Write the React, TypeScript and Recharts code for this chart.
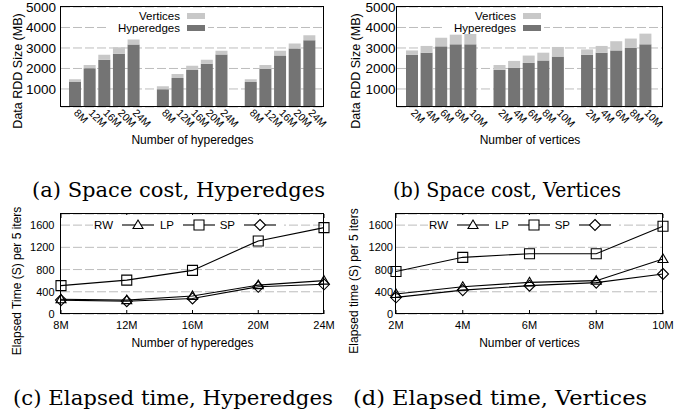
import React from 'react'
import { Bar, BarChart, CartesianGrid, Line, LineChart, XAxis, YAxis } from 'recharts'

// ---------------- data ----------------
const hyperedgeCounts = ['8M', '12M', '16M', '20M', '24M']
const vertexCounts = ['2M', '4M', '6M', '8M', '10M']

// (a) space cost while growing hyperedges, three datasets side by side (MB)
const spaceHyperHyperedges = [
  [1340, 2010, 2430, 2720, 3170],
  [990, 1540, 1930, 2230, 2680],
  [1340, 1980, 2630, 2980, 3380],
]
const spaceHyperVertices = [
  [140, 160, 240, 310, 250],
  [140, 190, 200, 200, 190],
  [140, 190, 240, 240, 240],
]

// (b) space cost while growing vertices (MB)
const spaceVertHyperedges = [
  [2670, 2770, 3080, 3180, 3180],
  [1940, 2040, 2270, 2390, 2580],
  [2670, 2770, 2880, 3000, 3180],
]
const spaceVertVertices = [
  [210, 330, 420, 470, 520],
  [230, 330, 360, 380, 470],
  [260, 330, 450, 460, 520],
]

// (c) elapsed time per 5 iterations, hyperedges sweep (s)
const timeHyperRW = [265, 250, 325, 520, 600]
const timeHyperLP = [510, 610, 785, 1315, 1555]
const timeHyperSP = [250, 230, 280, 490, 535]

// (d) elapsed time per 5 iterations, vertices sweep (s)
const timeVertRW = [360, 490, 570, 600, 990]
const timeVertLP = [765, 1020, 1085, 1085, 1580]
const timeVertSP = [300, 430, 510, 565, 720]

const spaceTicks = [1000, 2000, 3000, 4000, 5000]
const timeTicks = [0, 400, 800, 1200, 1600]

// ---------------- look ----------------
const W = 682
const H = 418
const SANS = '"Liberation Sans", Arial, Helvetica, sans-serif'
const SERIF = '"DejaVu Serif", serif'
const DARK = '#747474'
const LIGHT = '#c8c8c8'
const GRID = '#bdbdbd'
const SPACE_MIN = 120

type Box = { left: number; right: number; top: number; bottom: number }

const BOX_A: Box = { left: 61, right: 324, top: 7, bottom: 107 }
const BOX_B: Box = { left: 397, right: 663, top: 7, bottom: 107 }
const BOX_C: Box = { left: 61, right: 324, top: 214, bottom: 314 }
const BOX_D: Box = { left: 396, right: 663, top: 214, bottom: 314 }

const spaceSeries = [
  { key: 'vertices', name: 'Vertices', color: LIGHT },
  { key: 'hyperedges', name: 'Hyperedges', color: DARK },
]

const timeSeries = [
  { key: 'rw', name: 'RW', shape: 'triangle' },
  { key: 'lp', name: 'LP', shape: 'square' },
  { key: 'sp', name: 'SP', shape: 'diamond' },
]

type SpaceRow = { key: string; label: string; hyperedges: number | null; vertices: number | null }

// three groups of five bars, with one empty slot between groups
function spaceRows(labels: string[], hyper: number[][], vert: number[][]): SpaceRow[] {
  const rows: SpaceRow[] = []
  hyper.forEach((group, g) => {
    if (g > 0) rows.push({ key: `gap${g}`, label: '', hyperedges: null, vertices: null })
    group.forEach((h, i) => rows.push({ key: `${g}-${i}`, label: labels[i], hyperedges: h, vertices: vert[g][i] }))
  })
  return rows
}

function timeRows(labels: string[], rw: number[], lp: number[], sp: number[]) {
  return labels.map((label, i) => ({ label, rw: rw[i], lp: lp[i], sp: sp[i] }))
}

// axes take 1px each (a zero-sized axis is not drawn), so margins stop 1px short of the plot box
function margins(box: Box) {
  return { top: box.top, left: box.left - 1, right: W - box.right, bottom: H - box.bottom - 1 }
}

// ---------------- ticks & markers ----------------
function YTick({ x = 0, y = 0, payload, gap, size }: any) {
  return (
    <text x={x - gap} y={y} dy="0.36em" textAnchor="end" fontFamily={SANS} fontSize={size} fill="#000">
      {payload?.value}
    </text>
  )
}

function GroupTick({ x = 0, y = 0, payload, rows }: any) {
  const row = rows.find((r: SpaceRow) => r.key === payload?.value)
  if (!row || !row.label) return <g />
  return (
    <text transform={`translate(${x - 2},${y + 6.5}) rotate(45)`} fontFamily={SANS} fontSize={10.5} fill="#000">
      {row.label}
    </text>
  )
}

function TimeXTick({ x = 0, y = 0, payload, top }: any) {
  return (
    <g>
      <line x1={x} x2={x} y1={y} y2={y - 4} stroke="#000" />
      <line x1={x} x2={x} y1={top} y2={top + 4} stroke="#000" />
      <text x={x} y={y + 14.5} textAnchor="middle" fontFamily={SANS} fontSize={11} fill="#000">
        {payload?.value}
      </text>
    </g>
  )
}

function markerPath(shape: string, cx: number, cy: number) {
  if (shape === 'triangle') return `M${cx},${cy - 5}L${cx + 5},${cy + 3.5}L${cx - 5},${cy + 3.5}Z`
  if (shape === 'square') return `M${cx - 5},${cy - 5}h10v10h-10Z`
  return `M${cx},${cy - 5.5}L${cx + 5.5},${cy}L${cx},${cy + 5.5}L${cx - 5.5},${cy}Z`
}

function Marker({ cx, cy, shape }: any) {
  if (cx == null || cy == null) return <g />
  return <path d={markerPath(shape, cx, cy)} fill="none" stroke="#000" strokeWidth={1.1} />
}

// ---------------- frames & legends ----------------
function Frame({ box }: { box: Box }) {
  return (
    <div
      style={{
        position: 'absolute',
        left: box.left - 0.7,
        top: box.top - 0.7,
        width: box.right - box.left - 1.4,
        height: box.bottom - box.top - 1.4,
        border: '1.4px solid #000',
        pointerEvents: 'none',
      }}
    />
  )
}

function SpaceLegend({ box }: { box: Box }) {
  return (
    <div
      style={{
        position: 'absolute', left: box.left + 46, top: box.top + 1, width: 101, height: 26,
        background: '#fff', fontFamily: SANS, fontSize: 11.5,
      }}
    >
      {spaceSeries.map((s, i) => (
        <div
          key={s.key}
          style={{ position: 'absolute', right: 3, top: 2 + i * 12, height: 12, display: 'flex', alignItems: 'center' }}
        >
          <span style={{ lineHeight: '11px', whiteSpace: 'nowrap' }}>{s.name}</span>
          <span style={{ width: 18, height: 6, background: s.color, marginLeft: 7 }} />
        </div>
      ))}
    </div>
  )
}

function TimeLegend({ box }: { box: Box }) {
  return (
    <div
      style={{
        position: 'absolute', left: box.left + 32, top: box.top + 1, width: 191, height: 20,
        background: '#fff', fontFamily: SANS, fontSize: 11.5, display: 'flex', alignItems: 'center',
      }}
    >
      {timeSeries.map((s) => (
        <div key={s.key} style={{ width: 61, display: 'flex', alignItems: 'center' }}>
          <span style={{ width: 20, textAlign: 'right', whiteSpace: 'nowrap', lineHeight: '20px' }}>{s.name}</span>
          <svg width={32} height={20} style={{ marginLeft: 9, display: 'block' }}>
            <line x1={0} x2={32} y1={10} y2={10} stroke="#000" strokeWidth={1.1} />
            <path d={markerPath(s.shape, 16, 10)} fill="#fff" stroke="#000" strokeWidth={1.1} />
          </svg>
        </div>
      ))}
    </div>
  )
}

// ---------------- panels ----------------
function SpacePanel({ box, rows, padding, tickGap }: { box: Box; rows: SpaceRow[]; padding: { left: number; right: number }; tickGap: number }) {
  return (
    <>
      <div style={{ position: 'absolute', left: 0, top: 0 }}>
        <BarChart width={W} height={H} data={rows} margin={margins(box)} barSize={12}>
          <CartesianGrid vertical={false} stroke={GRID} strokeDasharray="9 3" />
          <XAxis
            dataKey="key"
            interval={0}
            height={1}
            tickSize={0}
            tickMargin={0}
            padding={padding}
            axisLine={false}
            tickLine={false}
            tick={(p: any) => <GroupTick {...p} rows={rows} />}
          />
          <YAxis
            width={1}
            domain={[SPACE_MIN, 5000]}
            ticks={spaceTicks}
            interval={0}
            allowDataOverflow
            axisLine={false}
            tickLine={false}
            tickSize={0}
            tickMargin={0}
            tick={(p: any) => <YTick {...p} gap={tickGap - 1} size={13.5} />}
          />
          <Bar dataKey="hyperedges" stackId="s" fill={DARK} isAnimationActive={false} />
          <Bar dataKey="vertices" stackId="s" fill={LIGHT} isAnimationActive={false} />
        </BarChart>
      </div>
      <Frame box={box} />
      <SpaceLegend box={box} />
    </>
  )
}

function TimePanel({ box, rows, tickGap }: { box: Box; rows: any[]; tickGap: number }) {
  return (
    <>
      <div style={{ position: 'absolute', left: 0, top: 0 }}>
        <LineChart width={W} height={H} data={rows} margin={margins(box)}>
          <CartesianGrid vertical={false} stroke={GRID} strokeDasharray="9 3" />
          <XAxis
            dataKey="label"
            interval={0}
            height={1}
            tickSize={0}
            tickMargin={0}
            axisLine={false}
            tickLine={false}
            tick={(p: any) => <TimeXTick {...p} top={box.top} />}
          />
          <YAxis
            width={1}
            domain={[0, 1800]}
            ticks={timeTicks}
            interval={0}
            axisLine={false}
            tickLine={false}
            tickSize={0}
            tickMargin={0}
            tick={(p: any) => <YTick {...p} gap={tickGap - 1} size={11} />}
          />
          {timeSeries.map((s) => (
            <Line
              key={s.key}
              dataKey={s.key}
              name={s.name}
              stroke="#000"
              strokeWidth={1.1}
              dot={(p: any) => <Marker key={`${s.key}-${p.index}`} {...p} shape={s.shape} />}
              activeDot={false}
              isAnimationActive={false}
            />
          ))}
        </LineChart>
      </div>
      <Frame box={box} />
      <TimeLegend box={box} />
    </>
  )
}

const axisTitles = [
  { text: 'Data RDD Size (MB)', x: 18, y: 71, vertical: true, size: 12.5 },
  { text: 'Data RDD Size (MB)', x: 356, y: 71, vertical: true, size: 12.5 },
  { text: 'Elapsed Time (S) per 5 iters', x: 17, y: 281, vertical: true, size: 12 },
  { text: 'Elapsed time (S) per 5 iters', x: 354, y: 281, vertical: true, size: 12 },
  { text: 'Number of hyperedges', x: 192.5, y: 144, vertical: false, size: 12 },
  { text: 'Number of vertices', x: 530, y: 144, vertical: false, size: 12 },
  { text: 'Number of hyperedges', x: 192.5, y: 346.5, vertical: false, size: 12 },
  { text: 'Number of vertices', x: 529.5, y: 346.5, vertical: false, size: 12 },
]

const captions = [
  { text: '(a) Space cost, Hyperedges', x: 32, y: 197, width: 293 },
  { text: '(b) Space cost, Vertices', x: 393, y: 197, width: 228 },
  { text: '(c) Elapsed time, Hyperedges', x: 13, y: 405, width: 320 },
  { text: '(d) Elapsed time, Vertices', x: 353, y: 405, width: 294 },
]

export default function App() {
  const rowsA = spaceRows(hyperedgeCounts, spaceHyperHyperedges, spaceHyperVertices)
  const rowsB = spaceRows(vertexCounts, spaceVertHyperedges, spaceVertVertices)
  const rowsC = timeRows(hyperedgeCounts, timeHyperRW, timeHyperLP, timeHyperSP)
  const rowsD = timeRows(vertexCounts, timeVertRW, timeVertLP, timeVertSP)

  return (
    <div style={{ position: 'absolute', left: 0, top: 0, width: W, height: H, background: '#fff', overflow: 'hidden' }}>
      <SpacePanel box={BOX_A} rows={rowsA} padding={{ left: 7, right: 7 }} tickGap={6} />
      <SpacePanel box={BOX_B} rows={rowsB} padding={{ left: 8, right: 10 }} tickGap={2.5} />
      <TimePanel box={BOX_C} rows={rowsC} tickGap={7.5} />
      <TimePanel box={BOX_D} rows={rowsD} tickGap={4} />
      <svg width={W} height={H} style={{ position: 'absolute', left: 0, top: 0, pointerEvents: 'none' }}>
        {axisTitles.map((t, i) =>
          t.vertical ? (
            <text
              key={i}
              x={t.x}
              y={t.y}
              dy="0.35em"
              transform={`rotate(-90, ${t.x}, ${t.y})`}
              textAnchor="middle"
              fontFamily={SANS}
              fontSize={t.size}
            >
              {t.text}
            </text>
          ) : (
            <text key={i} x={t.x} y={t.y} textAnchor="middle" fontFamily={SANS} fontSize={t.size}>
              {t.text}
            </text>
          ),
        )}
        {captions.map((c) => (
          <text
            key={c.text}
            x={c.x}
            y={c.y}
            fontFamily={SERIF}
            fontSize={20}
            textLength={c.width}
            lengthAdjust="spacingAndGlyphs"
          >
            {c.text}
          </text>
        ))}
      </svg>
    </div>
  )
}
